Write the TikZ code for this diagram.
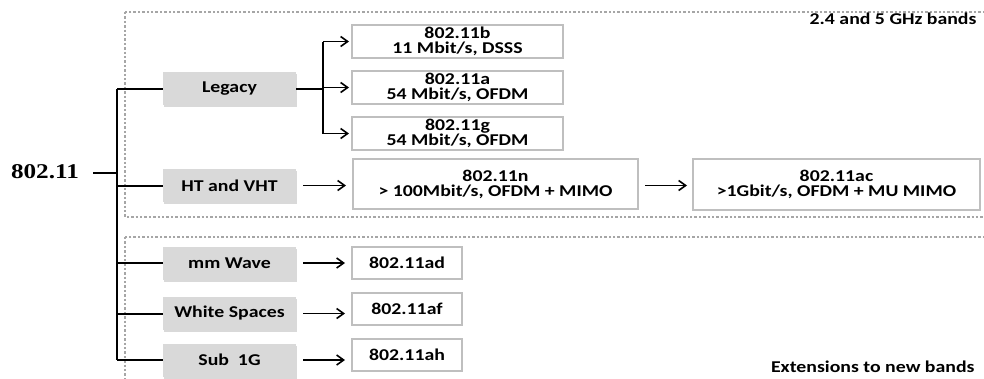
\documentclass[tikz,border=0pt]{standalone}
\usepackage{fontspec}
\setmainfont{Carlito}[FakeStretch=1.2]
\newfontfamily\rootfont{Liberation Serif}[FakeStretch=1.2]
\usetikzlibrary{positioning, arrows.meta, shadows}

\begin{document}
\begin{tikzpicture}[
    x=1pt, y=-1pt,
    font=\bfseries\fontsize{16.5}{15}\selectfont,
    band/.style={
        rectangle,
        fill=black!15,
        minimum width=133pt,
        minimum height=33pt,
        inner sep=0pt,
        drop shadow={shadow xshift=1pt, shadow yshift=-2pt, opacity=.3}
    },
    std/.style={
        rectangle,
        draw=black!25,
        line width=2pt,
        fill=white,
        inner sep=0pt,
        align=center
    },
    link/.style={line width=2pt},
    arr/.style={-{Straight Barb[length=7pt, width=10pt]}, line width=1.6pt},
    region/.style={draw=black!35, line width=2.6pt, dash pattern=on 2.4pt off 2pt}
]

\useasboundingbox (0,0) rectangle (984,378);
\clip (0,0) rectangle (984,378);

% Band regions
\draw[region] (125,12) rectangle (1010,217);
\draw[region] (125,237) rectangle (1010,420);
\node[anchor=east] (lowmid) at (980,19) {2.4 and 5 GHz bands};
\node[anchor=east] (newbands) at (978,367) {Extensions to new bands};

% Root
\node[font=\rootfont\bfseries\fontsize{21}{21}\selectfont, inner sep=0pt] (root) at (45,172) {802.11};
\coordinate (trunk) at (117,173);

% Groups
\node[band] (legacy) at (229.5,88.5) {Legacy};
\node[band] (ht)     at (229.5,185.5) {HT and VHT};
\node[band] (mmw)    at (229.5,263) {mm Wave};
\node[band] (white)  at (229.5,313.5) {White Spaces};
\node[band] (sub)    at (229.5,360) {Sub\ \ 1G};

% Standards
\node[std, minimum width=211pt, minimum height=33pt] (b)  at (457.5,41.5)  {802.11b\\11 Mbit/s, DSSS};
\node[std, minimum width=211pt, minimum height=33pt] (a)  at (457.5,87.5)  {802.11a\\54 Mbit/s, OFDM};
\node[std, minimum width=211pt, minimum height=33pt] (g)  at (457.5,133.5) {802.11g\\54 Mbit/s, OFDM};
\node[std, minimum width=285pt, minimum height=50pt] (n)  at (495.5,184)   {802.11n\\> 100Mbit/s, OFDM + MIMO};
\node[std, minimum width=287pt, minimum height=51pt] (ac) at (836.5,184.5) {802.11ac\\>1Gbit/s, OFDM + MU MIMO};
\node[std, minimum width=110pt, minimum height=32pt] (ad) at (407,263)     {802.11ad};
\node[std, minimum width=110pt, minimum height=32pt] (af) at (407,308.5)   {802.11af};
\node[std, minimum width=110pt, minimum height=32pt] (ah) at (407,354.5)   {802.11ah};

% Tree
\draw[link] (root.east |- trunk) ++(14,0) -- (trunk);
\draw[link] (trunk |- legacy) -- (trunk |- sub);
\draw[link] (trunk |- legacy) -- (legacy.west);
\draw[link] (trunk |- ht) -- (ht.west);
\draw[link] (trunk |- mmw) -- (mmw.west);
\draw[link] (trunk |- white) -- (white.west);
\draw[link] (trunk |- sub) -- (sub.west);

% Legacy fork
\coordinate (fork) at (323,88.5);
\draw[link] (legacy.east) -- (fork);
\draw[link] (fork |- b) -- (fork |- g);
\draw[arr] (fork |- b) -- ([xshift=-2pt]b.west);
\draw[arr] (fork |- a) -- ([xshift=-2pt]a.west);
\draw[arr] (fork |- g) -- ([xshift=-2pt]g.west);

% Other arrows
\draw[arr, shorten <=7pt, shorten >=6pt] (ht.east) -- (n.west |- ht);
\draw[arr, shorten <=6pt, shorten >=5pt] (n.east |- ht) -- (ac.west |- ht);
\draw[arr, shorten <=7pt, shorten >=6pt] (mmw.east) -- (ad.west |- mmw);
\draw[arr, shorten <=7pt, shorten >=6pt] (white.east) -- (af.west |- white);
\draw[arr, shorten <=7pt, shorten >=6pt] (sub.east) -- (ah.west |- sub);

\end{tikzpicture}
\end{document}
